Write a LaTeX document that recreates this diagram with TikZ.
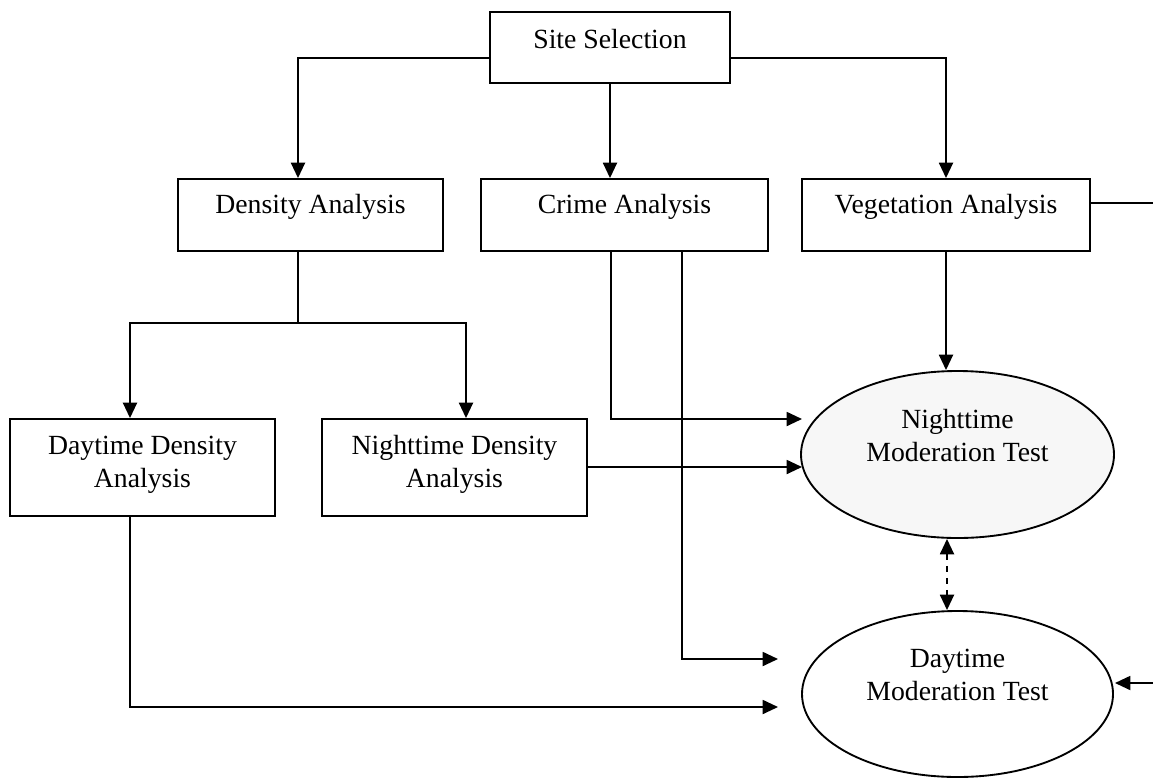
\documentclass[tikz,border=0pt]{standalone}
\usepackage{fontspec}
\setmainfont{Liberation Serif}
\usetikzlibrary{arrows.meta,shapes.geometric,calc}
\begin{document}
\begin{tikzpicture}[x=0.75pt,y=-0.75pt,
  line width=1.4pt,
  box/.style={draw=black,line width=1.4pt,rectangle,inner sep=0pt,fill=white},
  oval/.style={draw=black,line width=1.4pt,ellipse,inner sep=0pt},
  txt/.style={font=\fontsize{20.8pt}{25pt}\selectfont,align=center,inner sep=0pt},
  arr/.style={-{Triangle[length=11.5pt,width=10.5pt]}},
  darr/.style={{Triangle[length=11.5pt,width=10.5pt]}-{Triangle[length=11.5pt,width=10.5pt]},dash pattern=on 5pt off 4pt}]
\useasboundingbox (0,0) rectangle (1153,779);

% boxes
\node[box,minimum width=180pt,minimum height=53.25pt] (site) at (610,47.25) {};
\node[box,minimum width=198.75pt,minimum height=54pt] (dens) at (310.5,215) {};
\node[box,minimum width=215.25pt,minimum height=54pt] (crime) at (624.5,215) {};
\node[box,minimum width=216pt,minimum height=54pt] (veg) at (946,215) {};
\node[box,minimum width=198.75pt,minimum height=72.75pt] (dday) at (142.5,467.5) {};
\node[box,minimum width=198.75pt,minimum height=72.75pt] (dnight) at (454.5,467.5) {};
\node[oval,fill=black!3,minimum width=234.75pt,minimum height=125.25pt] (nmt) at (957.5,454.5) {};
\node[oval,fill=white,minimum width=233.25pt,minimum height=124.5pt] (dmt) at (957.5,694) {};

% texts
\node[txt] (site-t) at ($(site.center)+(0,-8)$) {Site Selection};
\node[txt] (dens-t) at ($(dens.center)+(0,-8)$) {Density Analysis};
\node[txt] (crime-t) at ($(crime.center)+(0,-8)$) {Crime Analysis};
\node[txt] (veg-t) at ($(veg.center)+(0,-8)$) {Vegetation Analysis};
\node[txt] (dday-t) at ($(dday.center)+(0,-3)$) {Daytime Density\\Analysis};
\node[txt] (dnight-t) at ($(dnight.center)+(0,-3)$) {Nighttime Density\\Analysis};
\node[txt] (nmt-t) at ($(nmt.center)+(0,-19)$) {Nighttime\\Moderation Test};
\node[txt] (dmt-t) at ($(dmt.center)+(0,-19)$) {Daytime\\Moderation Test};

% junction coordinates
\coordinate (jd) at (298,58);
\coordinate (jv) at (946,58);
\coordinate (db) at (298,323);
\coordinate (bl) at (130,323);
\coordinate (br) at (466,323);
\coordinate (c1) at (611,419);
\coordinate (c1e) at (802,419);
\coordinate (c2) at (682,659);
\coordinate (c2e) at (778,659);
\coordinate (nde) at (802,467);
\coordinate (dd) at (130,707);
\coordinate (dde) at (778,707);
\coordinate (dx) at (947,0);
\coordinate (vr) at (1160,203);
\coordinate (vd) at (1160,683);
\coordinate (ve) at (1115,683);

% connectors
\draw[arr] (site.west|-jd) -- (jd) -- (jd|-dens.north);
\draw[arr] (site.south) -- (site.south|-crime.north);
\draw[arr] (site.east|-jv) -- (jv) -- (jv|-veg.north);
\draw (dens.south-|db) -- (db);
\draw[arr] (db) -- (bl) -- (bl|-dday.north);
\draw[arr] (db) -- (br) -- (br|-dnight.north);
\draw[arr] (crime.south-|c1) -- (c1) -- (c1e);
\draw[arr] (crime.south-|c2) -- (c2) -- (c2e);
\draw[arr] (dnight.east|-nde) -- (nde);
\draw[arr] (dday.south-|dd) -- (dd) -- (dde);
\draw[arr] (veg.south) -- (veg.south|-nmt.north);
\draw[darr] (nmt.south-|dx) -- (dmt.north-|dx);
\draw[arr] (veg.east|-vr) -- (vr) -- (vd) -- (ve);
\end{tikzpicture}
\end{document}
